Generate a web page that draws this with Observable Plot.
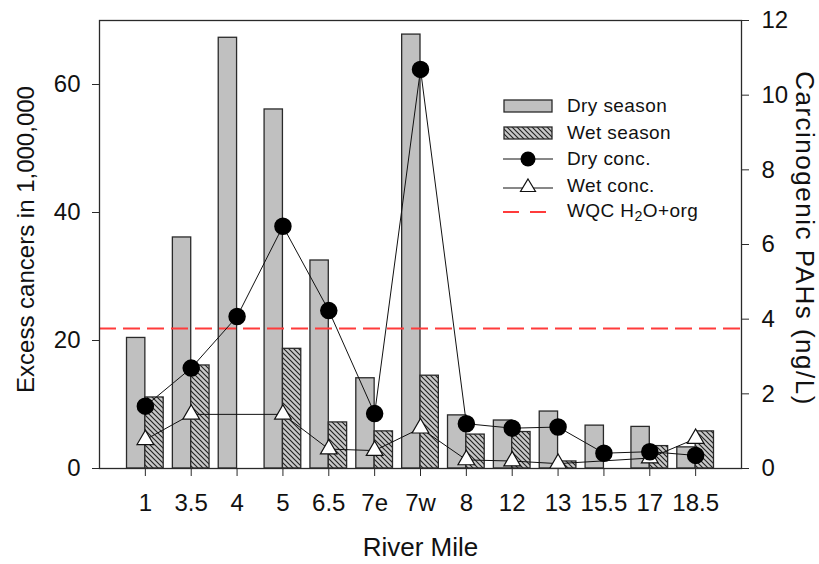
<!DOCTYPE html>
<html>
<head>
<meta charset="utf-8">
<script src="https://cdn.jsdelivr.net/npm/d3@7"></script>
<script src="https://cdn.jsdelivr.net/npm/@observablehq/plot@0.6"></script>
<style>
  html, body { margin: 0; padding: 0; background: #fff; }
  #wrap { position: relative; width: 819px; height: 564px; font-family: "Liberation Sans", Arial, sans-serif; }
  #legend { position: absolute; left: 503px; top: 93px; font-size: 19px; color: #111; }
  .row { display: flex; align-items: center; height: 26.5px; }
  .row svg { width: 50px; height: 20px; flex: none; }
  .row span { margin-left: 14px; letter-spacing: 0.4px; }
  sub { font-size: 0.75em; vertical-align: -0.3em; }
</style>
</head>
<body>
<div id="wrap"></div>
<script>
// ---- data ----
const categories = ["1","3.5","4","5","6.5","7e","7w","8","12","13","15.5","17","18.5"];
const dryCancers = [20.4, 36.1, 67.3, 56.1, 32.5, 14.1, 67.8, 8.3, 7.5, 8.9, 6.7, 6.5, 3.3];
const wetCancers = [11.1, 16.1, null, 18.7, 7.2, 5.8, 14.5, 5.3, 5.7, 1.1, null, 3.5, 5.8];
const dryConc   = [1.67, 2.69, 4.07, 6.49, 4.23, 1.47, 10.69, 1.20, 1.08, 1.11, 0.41, 0.45, 0.35];
const wetConc   = [0.77, 1.45, null, 1.45, 0.52, 0.48, 1.08, 0.23, 0.20, 0.13, null, 0.28, 0.80];
const wqcLevel = 3.75;           // ng/L
const leftTicks = [0, 20, 40, 60];
const rightTicks = [0, 2, 4, 6, 8, 10, 12];
const leftMax = 70, rightMax = 12;

const k = leftMax / rightMax;    // right-axis units -> left-axis units
const rows = categories.map((c, i) => ({
  i, c, dry: dryCancers[i], wet: wetCancers[i], dc: dryConc[i], wc: wetConc[i]
}));
const font = "Liberation Sans, Arial, sans-serif";

const chart = Plot.plot({
  width: 819,
  height: 564,
  marginLeft: 99,
  marginRight: 78,
  marginTop: 20,
  marginBottom: 96,
  style: { fontFamily: font, color: "#111", background: "white", overflow: "visible" },
  x: { type: "linear", domain: [-1, categories.length], axis: null },
  y: { domain: [0, leftMax], axis: null },
  marks: [
    Plot.rectY(rows.filter(d => d.dry != null), {
      x1: d => d.i - 0.4, x2: d => d.i, y: d => d.dry,
      fill: "#c0c0c0", stroke: "#2a2a2a", strokeWidth: 1.3
    }),
    Plot.rectY(rows.filter(d => d.wet != null), {
      x1: d => d.i, x2: d => d.i + 0.4, y: d => d.wet,
      fill: "url(#hatch)", stroke: "#2a2a2a", strokeWidth: 1.3
    }),
    Plot.ruleY([wqcLevel * k], { stroke: "#ff3b3b", strokeWidth: 2, strokeDasharray: "17,7" }),
    Plot.line(rows.filter(d => d.dc != null), { x: "i", y: d => d.dc * k, stroke: "#111", strokeWidth: 1 }),
    Plot.line(rows.filter(d => d.wc != null), { x: "i", y: d => d.wc * k, stroke: "#111", strokeWidth: 1 }),
    Plot.dot(rows.filter(d => d.wc != null), {
      x: "i", y: d => d.wc * k, symbol: "triangle", r: 6.2, fill: "white", stroke: "#111", strokeWidth: 1.2
    }),
    Plot.dot(rows.filter(d => d.dc != null), {
      x: "i", y: d => d.dc * k, r: 8, fill: "black", stroke: "black"
    }),
    Plot.frame({ stroke: "#2a2a2a", strokeWidth: 1.3 }),
    Plot.axisX(rows.map(d => d.i), {
      tickFormat: i => categories[i], tickSize: 8, tickPadding: 17, fontSize: 24, label: null, stroke: "#2a2a2a"
    }),
    Plot.axisY(leftTicks, {
      anchor: "left", tickSize: 7, tickPadding: 12, fontSize: 24, label: null, stroke: "#2a2a2a"
    }),
    Plot.axisY(rightTicks.map(t => t * k), {
      anchor: "right", tickSize: 7, tickPadding: 13, fontSize: 24, label: null, stroke: "#2a2a2a",
      tickFormat: d => String(Math.round(d / k))
    }),
    Plot.text(["Excess cancers in 1,000,000"], {
      frameAnchor: "left", textAnchor: "middle", lineAnchor: "middle",
      rotate: -90, dx: -73, dy: -5, fontSize: 24, fill: "#111"
    }),
    Plot.text(["Carcinogenic PAHs (ng/L)"], {
      frameAnchor: "right", textAnchor: "middle", lineAnchor: "middle",
      rotate: 90, dx: 63, dy: -6, fontSize: 26, fill: "#111"
    }),
    Plot.text(["River Mile"], {
      frameAnchor: "bottom", textAnchor: "middle", lineAnchor: "middle",
      dy: 79, fontSize: 26, fill: "#111"
    })
  ]
});

// hatch pattern definition
const ns = "http://www.w3.org/2000/svg";
const defs = document.createElementNS(ns, "defs");
defs.innerHTML = `<pattern id="hatch" patternUnits="userSpaceOnUse" width="5" height="5">
  <rect width="5" height="5" fill="#c8c8c8"></rect>
  <path d="M-1,-1 L6,6 M-1,4 L1,6 M4,-1 L6,1" stroke="#222" stroke-width="1.15"></path>
</pattern>`;
chart.insertBefore(defs, chart.firstChild);
chart.querySelectorAll("text").forEach(t => {
  if (t.textContent === "Carcinogenic PAHs (ng/L)") t.setAttribute("letter-spacing", "1.5");
});

const wrap = document.getElementById("wrap");
wrap.appendChild(chart);

// legend (HTML overlay)
const legendItems = [
  { label: "Dry season", sw: `<rect x="1" y="4" width="48" height="12" fill="#c0c0c0" stroke="#2a2a2a" stroke-width="1.3"/>` },
  { label: "Wet season", sw: `<rect x="1" y="4" width="48" height="12" fill="url(#hatch)" stroke="#2a2a2a" stroke-width="1.3"/>` },
  { label: "Dry conc.", sw: `<line x1="0" x2="50" y1="10" y2="10" stroke="#111"/><circle cx="25" cy="10" r="7.5" fill="black"/>` },
  { label: "Wet conc.", sw: `<line x1="0" x2="50" y1="12" y2="12" stroke="#111"/><path d="M25,3 L32.5,15.5 L17.5,15.5 Z" fill="white" stroke="#111" stroke-width="1.2"/>` },
  { label: "WQC H<sub>2</sub>O+org", sw: `<line x1="0" x2="50" y1="10" y2="10" stroke="#ff3b3b" stroke-width="2" stroke-dasharray="16,11"/>` }
];
const legend = document.createElement("div");
legend.id = "legend";
legend.innerHTML = legendItems.map(d =>
  `<div class="row"><svg viewBox="0 0 50 20">${d.sw}</svg><span>${d.label}</span></div>`
).join("");
wrap.appendChild(legend);
</script>
</body>
</html>
